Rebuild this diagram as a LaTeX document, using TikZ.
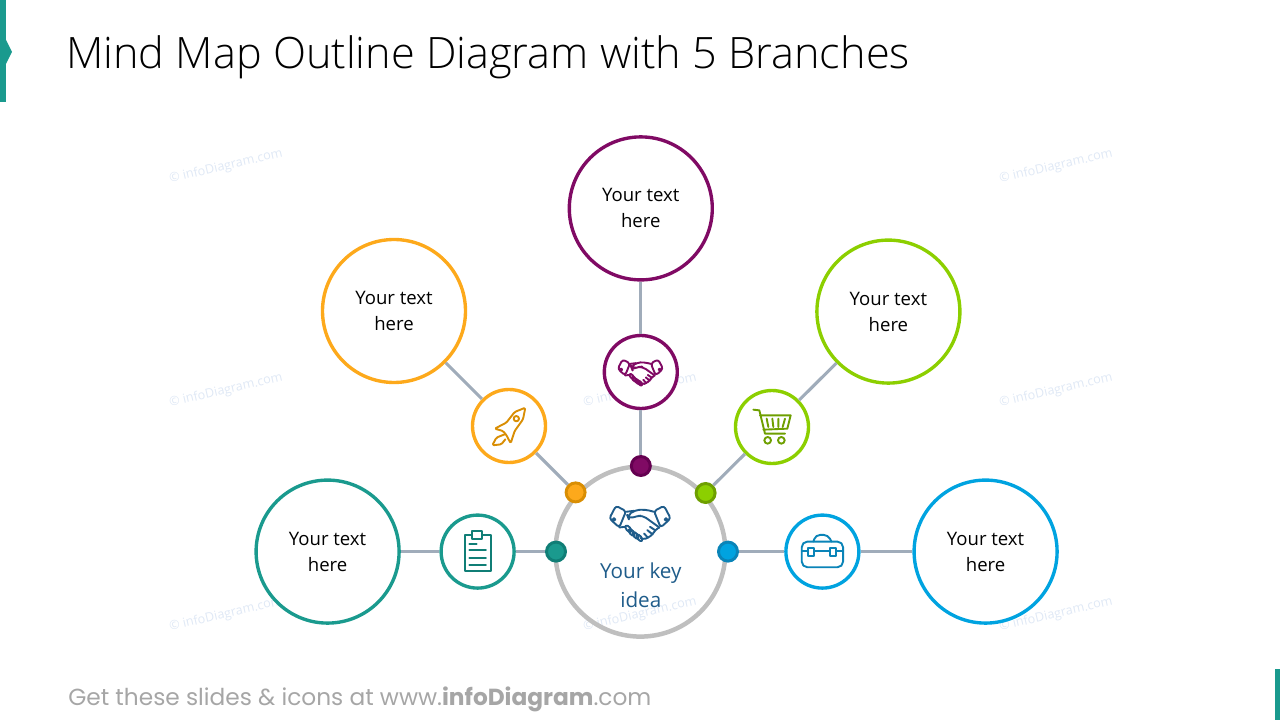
\documentclass[tikz,border=0pt]{standalone}
\usepackage{fontspec}
\setmainfont{Open Sans}
\newfontfamily\titlefont{Open Sans Light}
\newfontfamily\footfont{Poppins}
\usepackage{xcolor}
\usetikzlibrary{positioning}
\definecolor{tealc}{HTML}{1A9A8E}
\definecolor{tealdk}{HTML}{107E76}
\definecolor{orangec}{HTML}{FDA91B}
\definecolor{orangedk}{HTML}{D98E04}
\definecolor{purplec}{HTML}{800A64}
\definecolor{purpledk}{HTML}{640050}
\definecolor{greenc}{HTML}{8CCF00}
\definecolor{greendk}{HTML}{6E9F00}
\definecolor{bluec}{HTML}{00A3E0}
\definecolor{bluedk}{HTML}{0A84B8}
\definecolor{linkc}{HTML}{A0ACBA}
\definecolor{markc}{HTML}{DFE8F5}
\definecolor{keyc}{HTML}{1F5C8A}
\tikzset{
  bigc/.style={circle,draw=#1,line width=2.4pt,fill=white,minimum size=3.575cm,inner sep=0pt,
    align=center,font=\fontsize{13.2}{18.5}\selectfont},
  smallc/.style={circle,draw=#1,line width=2.4pt,fill=white,minimum size=1.825cm,inner sep=0pt},
  dotc/.style 2 args={circle,draw=#2,fill=#1,line width=2.1pt,minimum size=0.475cm,inner sep=0pt},
  link/.style={draw=linkc,line width=2.2pt},
  wmark/.style={text=markc,rotate=13,font=\fontsize{9}{10}\selectfont},
  iconunit/.style={x=0.00833cm,y=-0.00833cm,line width=1.35pt,line join=round,line cap=round},
  hands/.pic={
    \begin{scope}[iconunit]
    \draw[rounded corners=2pt] (-92,-13) -- (-72,-51) -- (-42,-35) -- (-62,14) -- cycle;
    \draw[rounded corners=2pt] (92,-13) -- (72,-51) -- (42,-35) -- (62,14) -- cycle;
    \draw (-78,-10) circle (4);
    \draw (78,-10) circle (4);
    \draw[rounded corners=3pt] (42,-33) -- (15,-40) -- (-15,-38) -- (-38,-22) -- (-34,-12) -- (-10,-20) -- (8,-22) -- (58,14);
    \draw (-42,-33) -- (-18,-36);
    \draw (-62,14) -- (-45,12);
    \draw[rounded corners=2pt] (58,14) -- (45,22) -- (38,35) -- (24,45) -- (10,50) -- (2,46);
    \draw (45,22) -- (30,12) (38,35) -- (22,22) (24,45) -- (12,32);
    \foreach \fx/\fy in {-35/18,-25/29,-13/38,-2/45}{
      \draw[shift={(\fx,\fy)},rotate=-50] (0,0) ellipse (12 and 6);
    }
    \end{scope}
  }
}
\begin{document}
\begin{tikzpicture}
    \useasboundingbox (0,0) rectangle (32,18);

    % corner marks
    \fill[tealc] (0,15.45) -- (0.15,15.45) -- (0.15,16.4) -- (0.3,16.7) -- (0.15,17) -- (0.15,18) -- (0,18) -- cycle;
    \fill[tealc] (31.875,0) rectangle (32,1.275);

    % title and footer
    \node[anchor=base west,inner sep=0pt,font=\titlefont\fontsize{30.76}{36}\selectfont] (title) at (1.65,16.29)
        {Mind Map Outline Diagram with 5 Branches};
    \node[anchor=base west,inner sep=0pt,text=black!35,font=\footfont\fontsize{16.55}{20}\selectfont] (foot) at (1.7,0.36)
        {Get these slides \& icons at www.\textbf{infoDiagram}.com};

    % watermarks
    \foreach \mx/\my/\mn in {5.65/13.84/a,5.65/8.24/b,5.65/2.64/c,16/8.24/d,16/2.64/e,26.4/13.84/f,26.4/8.24/g,26.4/2.64/h}{
        \node[wmark] (mark\mn) at (\mx,\my) {© infoDiagram.com};
    }

    % centre
    \node[circle,draw=black!25,line width=3.2pt,minimum size=4.25cm,inner sep=0pt] (key) at (16.01,4.21) {};
    \node[text=keyc,align=center,font=\fontsize{14.7}{20.6}\selectfont] (keytext) at (16.02,3.36) {Your key\\idea};

    % branch circles
    \node[bigc=purplec] (bigp) at (16.02,12.79) {Your text\\here};
    \node[smallc=purplec] (smallp) at (16.02,8.7) {};
    \node[dotc={purplec}{purpledk}] (dotp) at (16.02,6.35) {};

    \node[bigc=orangec] (bigo) at (9.85,10.225) {Your text\\here};
    \node[smallc=orangec] (smallo) at (12.725,7.35) {};
    \node[dotc={orangec}{orangedk}] (doto) at (14.39,5.69) {};

    \node[bigc=greenc] (bigg) at (22.21,10.21) {Your text\\here};
    \node[smallc=greenc] (smallg) at (19.3,7.325) {};
    \node[dotc={greenc}{greendk}] (dotg) at (17.64,5.675) {};

    \node[bigc=tealc] (bigt) at (8.19,4.21) {Your text\\here};
    \node[smallc=tealc] (smallt) at (11.94,4.21) {};
    \node[dotc={tealc}{tealdk}] (dott) at (13.9,4.21) {};

    \node[bigc=bluec] (bigb) at (24.64,4.21) {Your text\\here};
    \node[smallc=bluec] (smallb) at (20.56,4.21) {};
    \node[dotc={bluec}{bluedk}] (dotb) at (18.2,4.21) {};

    % links
    \foreach \br in {p,o,g,t,b}{
        \draw[link] (dot\br) -- (small\br);
        \draw[link] (small\br) -- (big\br);
    }

    % icons
    \pic[color=keyc] at (16,4.93) {hands};
    \pic[color=purplec,scale=0.74] at (16.01,8.7) {hands};

    % rocket
    \begin{scope}[shift={(12.725,7.35)},iconunit,color=orangedk]
        \draw[rounded corners=1pt] (49,-55) -- (17,-42) -- (-8,-10) -- (-43,8) -- (-18,15) -- (-8,27) -- (5,52) -- (17,15) -- (42,-20) -- cycle;
        \draw (22,-22) circle (8);
        \draw[rounded corners=1pt] (-13,25) -- (-38,35) -- (-50,58) -- (-23,55) -- (-11,40);
    \end{scope}

    % cart
    \begin{scope}[shift={(19.3,7.325)},iconunit,color=greendk]
        \draw (-56,-52) -- (-38,-50) -- (-21,20) -- (39,20);
        \draw (-36,-35) -- (56,-35) -- (46,5) -- (-26,8);
        \draw (-16,-25) -- (-11,0) (1,-25) -- (4,0) (19,-25) -- (19,0) (39,-25) -- (32,0);
        \draw (-13,40) circle (10) (28,40) circle (10);
    \end{scope}

    % toolbox
    \begin{scope}[shift={(20.56,4.21)},iconunit,color=bluedk]
        \draw[rounded corners=4pt] (-62,-30) rectangle (62,47);
        \draw[rounded corners=3pt] (-27,-30) -- (-20,-50) -- (17,-50) -- (27,-30);
        \draw (-62,-2) -- (-43,-2) (-25,-2) -- (23,-2) (41,-2) -- (62,-2);
        \draw (-43,-10) rectangle (-25,12) (23,-10) rectangle (41,12);
    \end{scope}

    % clipboard
    \begin{scope}[shift={(11.94,4.21)},iconunit,color=tealdk]
        \draw (-39,-51) rectangle (39,59);
        \draw[fill=white] (-16,-62) rectangle (14,-39);
        \draw (-25,-24) -- (-3,-24);
        \foreach \ly in {-4,18,40}{
            \draw (-25,\ly) -- (25,\ly);
        }
    \end{scope}
\end{tikzpicture}
\end{document}
